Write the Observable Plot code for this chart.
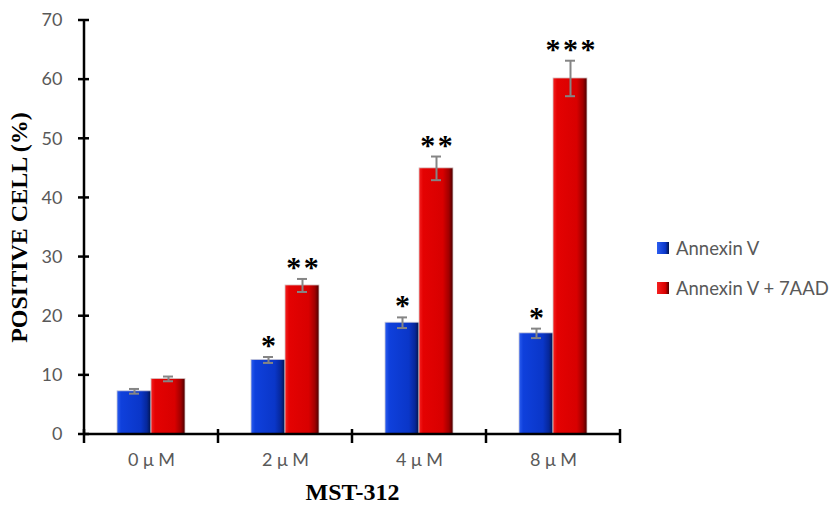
<!DOCTYPE html>
<html><head><meta charset="utf-8">
<script src="https://cdn.jsdelivr.net/npm/d3@7"></script>
<script src="https://cdn.jsdelivr.net/npm/@observablehq/plot@0.6"></script>
<style>
body{margin:0;background:#fff;}
#wrap{position:relative;width:837px;height:508px;overflow:hidden;}
#legend{position:absolute;left:657px;top:235px;font-family:Lato,"Open Sans",sans-serif;font-size:18.5px;color:#595959;}
#legend .item{display:flex;align-items:center;height:26px;margin-bottom:14px;white-space:nowrap;}
#legend .sw{width:12px;height:12px;margin-right:7px;}
</style></head>
<body><div id="wrap"><div id="chart"></div><div id="legend"></div></div>
<script>
const categories = ["0 μ M", "2 μ M", "4 μ M", "8 μ M"];
const seriesNames = ["Annexin V", "Annexin V + 7AAD"];
const annexinV = [7.3, 12.6, 18.9, 17.1];
const annexinV7AAD = [9.4, 25.2, 45.0, 60.2];
const errAnnexinV = [0.4, 0.5, 0.9, 0.8];
const errAnnexinV7AAD = [0.4, 1.1, 2.0, 3.0];
const starsAnnexinV = ["", "*", "*", "*"];
const starsAnnexinV7AAD = ["", "**", "**", "***"];
const yTicks = [0, 10, 20, 30, 40, 50, 60, 70];

const rowsA = categories.map((c, i) => ({cat: c, value: annexinV[i], err: errAnnexinV[i], star: starsAnnexinV[i]}));
const rowsB = categories.map((c, i) => ({cat: c, value: annexinV7AAD[i], err: errAnnexinV7AAD[i], star: starsAnnexinV7AAD[i]}));

function defs() {
  const svg = d3.create("svg:defs");
  const mk = (id, stops) => {
    const g = svg.append("linearGradient").attr("id", id).attr("x1", 0).attr("x2", 1).attr("y1", 0).attr("y2", 0);
    stops.forEach(([o, c]) => g.append("stop").attr("offset", o).attr("stop-color", c));
  };
  mk("gBlue", [["0", "#2b5df0"], ["0.12", "#0f40dc"], ["0.7", "#0a36c8"], ["0.88", "#06279a"], ["1", "#021448"]]);
  mk("gRed", [["0", "#f52020"], ["0.12", "#e40202"], ["0.7", "#d80000"], ["0.88", "#a00000"], ["1", "#4a0000"]]);
  return svg.node();
}

function axisTicks(index, scales, values, dims) {
  const g = d3.create("svg:g").attr("stroke", "black").attr("stroke-width", 2.5);
  const x0 = dims.marginLeft;
  const yb = scales.y(0);
  yTicks.forEach(t => {
    const y = scales.y(t);
    g.append("line").attr("x1", x0 - 6).attr("x2", x0 + 5).attr("y1", y).attr("y2", y);
  });
  const x = scales.x;
  const bw = x.bandwidth ? x.bandwidth() : (x(categories[1]) - x(categories[0]));
  const bounds = categories.map(c => x(c)).concat([x(categories[categories.length - 1]) + bw]);
  bounds.forEach(b => {
    g.append("line").attr("x1", b).attr("x2", b).attr("y1", yb - 5).attr("y2", yb + 9);
  });
  g.append("line").attr("x1", x0).attr("x2", x0).attr("y1", scales.y(70) - 1).attr("y2", yb + 1);
  g.append("line").attr("x1", x0).attr("x2", bounds[bounds.length - 1]).attr("y1", yb).attr("y2", yb);
  return g.node();
}

const starFont = {fontFamily: "Liberation Serif", fontWeight: "bold", fontSize: 30, fill: "black", lineAnchor: "bottom"};
const starText = d => d.star.split("").join("\u200A");
const errStyle = {stroke: "#858585", strokeWidth: 2};

const chart = Plot.plot({
  width: 640,
  height: 508,
  marginLeft: 84,
  marginRight: 20,
  marginTop: 20,
  marginBottom: 74,
  style: {fontFamily: "Lato, 'Open Sans', sans-serif", fontSize: "18px", color: "#595959", background: "white"},
  x: {domain: categories, padding: 0, label: null},
  y: {domain: [0, 70], label: null},
  marks: [
    defs,
    Plot.barY(rowsA, {x: "cat", y: "value", fill: "url(#gBlue)", insetLeft: 33, insetRight: 67, stroke: "#c8c8d8", strokeWidth: 0.8}),
    Plot.barY(rowsB, {x: "cat", y: "value", fill: "url(#gRed)", insetLeft: 67, insetRight: 33, stroke: "#d8c8c8", strokeWidth: 0.8}),
    Plot.ruleX(rowsA, {x: "cat", y1: d => d.value - d.err, y2: d => d.value + d.err, dx: -17, ...errStyle}),
    Plot.ruleX(rowsB, {x: "cat", y1: d => d.value - d.err, y2: d => d.value + d.err, dx: 17, ...errStyle}),
    Plot.tickY(rowsA, {x: "cat", y: d => d.value + d.err, insetLeft: 45, insetRight: 79, ...errStyle}),
    Plot.tickY(rowsA, {x: "cat", y: d => d.value - d.err, insetLeft: 45, insetRight: 79, ...errStyle}),
    Plot.tickY(rowsB, {x: "cat", y: d => d.value + d.err, insetLeft: 79, insetRight: 45, ...errStyle}),
    Plot.tickY(rowsB, {x: "cat", y: d => d.value - d.err, insetLeft: 79, insetRight: 45, ...errStyle}),
    Plot.text(rowsA, {x: "cat", y: d => d.value + d.err, text: starText, dx: -17, dy: -2, ...starFont}),
    Plot.text(rowsB, {x: "cat", y: d => d.value + d.err, text: starText, dx: 17, dy: -2, ...starFont}),
    Plot.axisY(yTicks, {tickSize: 0, tickPadding: 22, fill: "#595959", fontSize: 18}),
    Plot.axisX({tickSize: 0, tickPadding: 19, fill: "#595959", fontSize: 18}),
    axisTicks,
    Plot.text(["POSITIVE CELL (%)"], {frameAnchor: "left", textAnchor: "middle", rotate: -90, dx: -65, dy: 0, text: d => d, fontFamily: "Liberation Serif", fontWeight: "bold", fontSize: 24, fill: "black"}),
    Plot.text(["MST-312"], {frameAnchor: "bottom", dy: 65, text: d => d, fontFamily: "Liberation Serif", fontWeight: "bold", fontSize: 24, fill: "black"})
  ]
});
document.getElementById("chart").appendChild(chart);

const legend = document.getElementById("legend");
["linear-gradient(90deg,#2b5df0,#0a36c8 70%,#021448)", "linear-gradient(90deg,#f52020,#d80000 70%,#4a0000)"].forEach((css, i) => {
  const it = document.createElement("div");
  it.className = "item";
  const sw = document.createElement("span");
  sw.className = "sw";
  sw.style.background = css;
  const tx = document.createElement("span");
  tx.textContent = seriesNames[i];
  it.appendChild(sw); it.appendChild(tx);
  legend.appendChild(it);
});
</script>
</body></html>
